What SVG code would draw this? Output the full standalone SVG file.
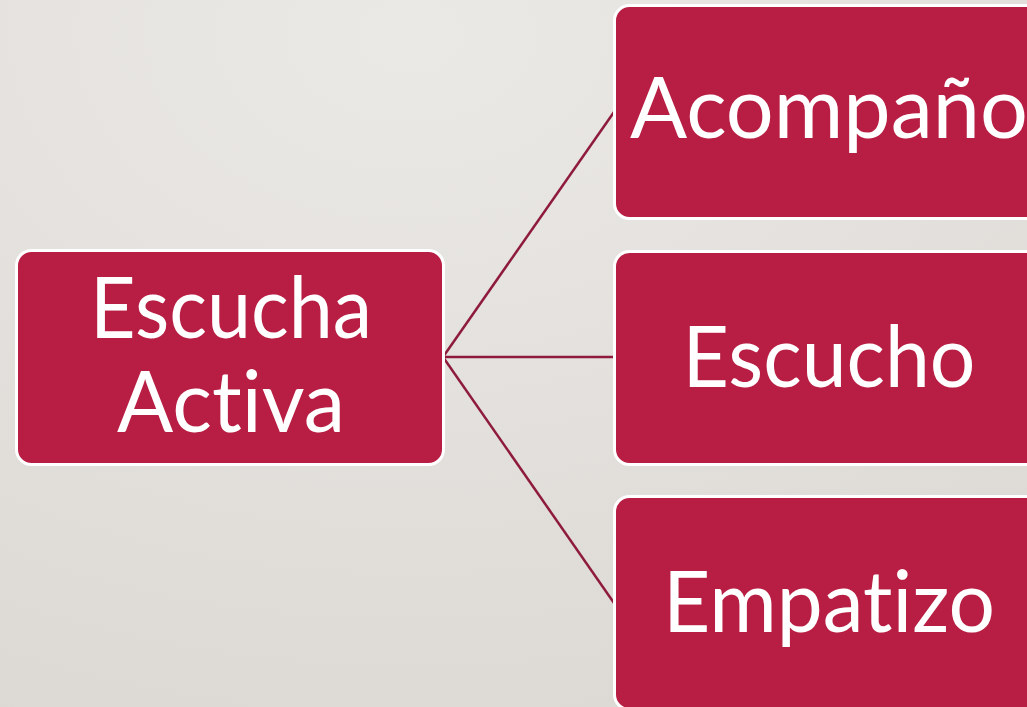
<svg xmlns="http://www.w3.org/2000/svg" width="1027" height="707" viewBox="0 0 1027 707">
<defs>
<radialGradient id="bg" cx="0.4" cy="0.05" r="1.1">
<stop offset="0" stop-color="#ebe9e6"/>
<stop offset="1" stop-color="#dbd8d3"/>
</radialGradient>
<style>
.box{fill:#b81e43;stroke:#ffffff;stroke-width:3}
.lbl{fill:#ffffff;font-family:"Lato","Open Sans","Liberation Sans",sans-serif;font-size:86px;text-anchor:middle;font-variant-ligatures:none;font-feature-settings:"liga" 0}
.conn{stroke:#8e1b3c;stroke-width:2.5;fill:none}
</style>
</defs>
<rect width="1027" height="707" fill="url(#bg)"/>
<g id="connectors">
<line class="conn" x1="443" y1="357" x2="614" y2="112"/>
<line class="conn" x1="443" y1="357" x2="614" y2="357"/>
<line class="conn" x1="443" y1="357" x2="614" y2="603"/>
</g>
<g id="node-escucha-activa">
<rect class="box" x="16.5" y="250.5" width="427" height="214" rx="15"/>
<text class="lbl" x="231" y="338" textLength="282" lengthAdjust="spacingAndGlyphs">Escucha</text>
<text class="lbl" x="231" y="432" textLength="228" lengthAdjust="spacingAndGlyphs">Activa</text>
</g>
<g id="node-acompano">
<rect class="box" x="614.5" y="5.5" width="440" height="213" rx="15"/>
<text class="lbl" x="829" y="138" textLength="398" lengthAdjust="spacingAndGlyphs">Acompaño</text>
</g>
<g id="node-escucho">
<rect class="box" x="614.5" y="251.5" width="440" height="213" rx="15"/>
<text class="lbl" x="829" y="387" textLength="293" lengthAdjust="spacingAndGlyphs">Escucho</text>
</g>
<g id="node-empatizo">
<rect class="box" x="614.5" y="496.5" width="440" height="213" rx="15"/>
<text class="lbl" x="829" y="632" textLength="332" lengthAdjust="spacingAndGlyphs">Empatizo</text>
</g>
</svg>
